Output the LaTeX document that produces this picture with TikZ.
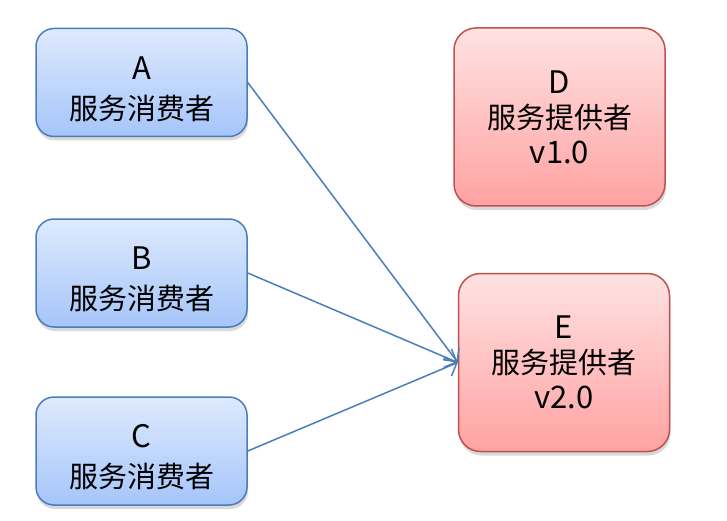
\documentclass[tikz,border=0pt]{standalone}
\usepackage{fontspec}
\setmainfont{Noto Sans CJK SC}
\usetikzlibrary{arrows.meta,shadows}
\definecolor{bluetop}{HTML}{DEEAFD}
\definecolor{bluebot}{HTML}{A5C5FA}
\definecolor{blueline}{HTML}{4A7EBB}
\definecolor{redtop}{HTML}{FFE2E2}
\definecolor{redbot}{HTML}{FFA2A2}
\definecolor{redline}{HTML}{C0504D}
\definecolor{arrowc}{HTML}{4A7EBB}
\newcommand{\lat}[1]{{\fontsize{31pt}{31pt}\selectfont #1}}
\newcommand{\toprule}{\rule{0pt}{36pt}}
\tikzset{
  consumer/.style={draw=blueline, line width=1.5pt, rounded corners=18pt,
    top color=bluetop, bottom color=bluebot, minimum width=211pt, minimum height=108pt,
    align=center, font=\fontsize{29pt}{40pt}\selectfont, inner sep=0pt,
    drop shadow={shadow xshift=1pt, shadow yshift=-4pt, opacity=0.25, fill=black!60}},
  provider/.style={draw=redline, line width=1.5pt, rounded corners=22pt,
    top color=redtop, bottom color=redbot, minimum width=211pt, minimum height=178pt,
    align=center, font=\fontsize{29pt}{35pt}\selectfont, inner sep=0pt,
    drop shadow={shadow xshift=1pt, shadow yshift=-4pt, opacity=0.25, fill=black!60}},
  conn/.style={draw=arrowc, line width=1.5pt, -{Straight Barb[length=10pt,width=20pt,line width=1.5pt]}}
}
\begin{document}
\begin{tikzpicture}[x=1pt,y=1pt]
\useasboundingbox (0,0) rectangle (727,520);
\node[consumer] (A) at (141.5,437.5) {\toprule\lat{A}\\服务消费者};
\node[consumer] (B) at (141.5,247) {\toprule\lat{B}\\服务消费者};
\node[consumer] (C) at (141.5,69) {\toprule\lat{C}\\服务消费者};
\node[provider] (D) at (559.5,403) {\lat{D}\\服务提供者\\\lat{v1.0}};
\node[provider] (E) at (564,157.5) {\lat{E}\\服务提供者\\\lat{v2.0}};
\draw[conn] (A.east) -- (E.west);
\draw[conn] (B.east) -- (E.west);
\draw[conn] (C.east) -- (E.west);
\end{tikzpicture}
\end{document}
